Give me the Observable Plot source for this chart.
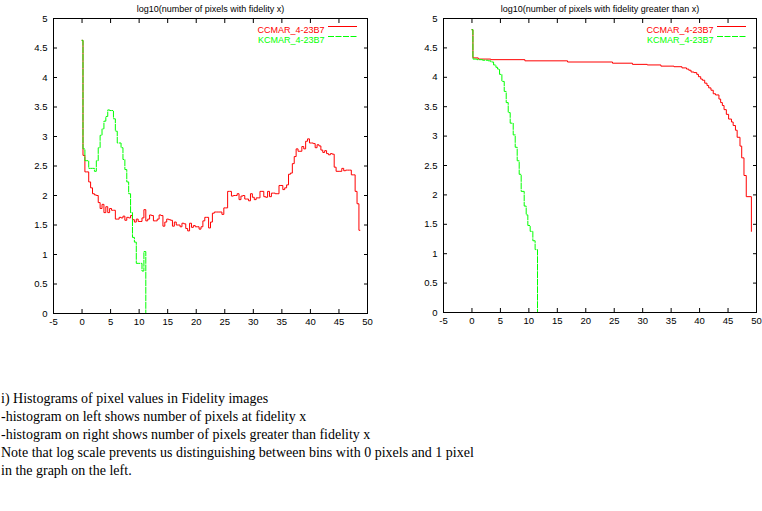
<!DOCTYPE html>
<html><head><meta charset="utf-8">
<script src="https://cdn.jsdelivr.net/npm/d3@7"></script>
<script src="https://cdn.jsdelivr.net/npm/@observablehq/plot@0.6"></script>
<style>
body{margin:0;background:#fff;}
#wrap{position:relative;width:762px;height:511px;overflow:hidden;background:#fff}
#wrap svg{position:absolute;top:0;overflow:visible;background:transparent}
#note{position:absolute;left:1px;top:390px;font-family:"Liberation Serif","DejaVu Serif",serif;font-size:14px;line-height:18px;color:#000;white-space:nowrap}
</style></head><body>
<div id="wrap"><div id="note"></div></div>
<script>
// ---- data ----
const binWidth = 1/3;   // histogram bin width (fidelity units), first bin centred at 0
const leftRed = [4.63, 2.68, 2.40, 2.40, 2.23, 2.13, 2.03, 2.01, 2.00, 1.88,
 1.78, 1.85, 1.71, 1.81, 1.71, 1.78, 1.75, 1.75, 1.60, 1.60,
 1.63, 1.62, 1.65, 1.58, 1.63, 1.62, 1.66, 1.59, 1.55, 1.60,
 1.56, 1.56, 1.62, 1.76, 1.57, 1.60, 1.67, 1.66, 1.57, 1.57,
 1.60, 1.67, 1.66, 1.48, 1.55, 1.60, 1.59, 1.58, 1.48, 1.55,
 1.50, 1.50, 1.47, 1.53, 1.52, 1.44, 1.40, 1.53, 1.46, 1.49,
 1.47, 1.47, 1.43, 1.47, 1.57, 1.63, 1.63, 1.45, 1.55, 1.70,
 1.72, 1.72, 1.72, 1.72, 1.68, 1.79, 1.79, 2.07, 2.07, 1.99,
 2.00, 2.00, 2.03, 1.93, 1.99, 2.00, 1.94, 1.94, 1.91, 2.03,
 1.97, 1.93, 1.96, 1.96, 2.07, 2.07, 1.98, 1.97, 2.07, 1.98,
 2.04, 2.04, 2.03, 2.03, 2.17, 2.17, 2.10, 2.13, 2.18, 2.36,
 2.38, 2.54, 2.66, 2.79, 2.75, 2.75, 2.83, 2.79, 2.92, 2.96,
 2.89, 2.89, 2.88, 2.81, 2.86, 2.84, 2.77, 2.73, 2.76, 2.71,
 2.69, 2.71, 2.70, 2.48, 2.41, 2.41, 2.41, 2.46, 2.42, 2.43,
 2.43, 2.43, 2.35, 2.35, 2.07, 1.86, 1.41];
const leftGreen = [4.63, 2.79, 2.59, 2.59, 2.46, 2.46, 2.46, 2.41, 2.59, 2.81,
 3.02, 3.13, 3.26, 3.34, 3.45, 3.44, 3.44, 3.30, 3.09, 2.89,
 2.89, 2.81, 2.61, 2.44, 2.23, 2.03, 1.71, 1.29, 1.21, 0.85,
 0.85, 0.85, 0.72, 1.05, 0];

const rightRedX = [0, 0.17, 1.1, 3.3, 9.3, 16.8, 24.7, 28.2, 30.8, 33.2, 35.5, 36.9, 37.7, 38.1, 38.5, 39.0, 39.5, 39.8, 40.2, 40.5, 40.9, 41.3, 41.6, 42.0, 42.4, 42.8, 43.4, 43.7, 44.0, 44.3, 44.7, 45.1, 45.6, 45.9, 46.3, 46.6, 47.1, 47.4, 47.8, 48.2, 49.1];
const rightRedY = [4.81, 4.33, 4.31, 4.30, 4.28, 4.26, 4.24, 4.22, 4.21, 4.19, 4.18, 4.16, 4.14, 4.12, 4.09, 4.08, 4.05, 4.01, 3.97, 3.95, 3.90, 3.86, 3.82, 3.78, 3.72, 3.70, 3.63, 3.57, 3.52, 3.45, 3.37, 3.29, 3.24, 3.18, 3.10, 2.98, 2.83, 2.63, 2.33, 1.97, 1.38];
const rightGreenX = [0, 0.17, 0.87, 1.87, 2.86, 3.33, 3.80, 4.21, 4.5, 4.85, 5.26, 5.67, 6.02, 6.37, 6.72, 7.25, 7.6, 7.95, 8.3, 8.65, 9.18, 9.53, 9.82, 10.23, 10.7, 11.1, 11.52];
const rightGreenY = [4.81, 4.31, 4.30, 4.29, 4.28, 4.26, 4.21, 4.17, 4.14, 4.05, 3.93, 3.76, 3.57, 3.40, 3.22, 3.02, 2.81, 2.58, 2.35, 2.06, 1.81, 1.66, 1.48, 1.38, 1.22, 1.07, 0];
const seriesNames = ["CCMAR_4-23B7", "KCMAR_4-23B7"];
const seriesColors = ["#ff0000", "#00ff00"];
const titles = ["log10(number of pixels with fidelity x)", "log10(number of pixels with fidelity greater than x)"];
const xTicks = [-5, 0, 5, 10, 15, 20, 25, 30, 35, 40, 45, 50];
const yTicks = [0, 0.5, 1, 1.5, 2, 2.5, 3, 3.5, 4, 4.5, 5];
const noteLines = [
  "i) Histograms of pixel values in Fidelity images",
  "-histogram on left shows number of pixels at fidelity x",
  "-histogram on right shows number of pixels greater than fidelity x",
  "Note that log scale prevents us distinguishing between bins with 0 pixels and 1 pixel",
  "in the graph on the left."
];

const dash = "6,1.5";
const W = 381, H = 330;

function panel({title, lines, marginLeft, marginRight, marginBottom}) {
  const svg = Plot.plot({
    width: W, height: H,
    marginLeft, marginRight, marginTop: 18, marginBottom,
    x: {domain: [-5, 50]},
    y: {domain: [0, 5]},
    style: {fontFamily: "'Liberation Sans', Arial, sans-serif", fontSize: "9.5px", color: "#000", background: "transparent"},
    marks: [
      Plot.axisX({ticks: xTicks, anchor: "bottom", tickSize: -4, tickPadding: 9, tickFormat: d => String(d), label: null}),
      Plot.axisX({ticks: xTicks, anchor: "top", tickSize: -4, tickFormat: () => "", label: null}),
      Plot.axisY({ticks: yTicks, anchor: "left", tickSize: -4, tickPadding: 10, tickFormat: d => String(d), label: null}),
      Plot.axisY({ticks: yTicks, anchor: "right", tickSize: -4, tickFormat: () => "", label: null}),
      ...lines,
      Plot.frame({stroke: "#000", strokeWidth: 1}),
      Plot.text([title], {text: d => d, frameAnchor: "top", dy: -13, fontSize: 9}),
      Plot.text([seriesNames[0]], {text: d => d, frameAnchor: "top-right", dx: -43, dy: 8, textAnchor: "end", fill: seriesColors[0], fontSize: 9}),
      Plot.text([seriesNames[1]], {text: d => d, frameAnchor: "top-right", dx: -43, dy: 18.5, textAnchor: "end", fill: seriesColors[1], fontSize: 9})
    ]
  });
  // legend line samples
  const fr = W - marginRight, top = 18;
  const g = d3.select(svg).append("g");
  g.append("line").attr("x1", fr - 39).attr("x2", fr - 10).attr("y1", top + 8.5).attr("y2", top + 8.5)
    .attr("stroke", seriesColors[0]).attr("stroke-width", 1);
  g.append("line").attr("x1", fr - 39).attr("x2", fr - 10).attr("y1", top + 18.5).attr("y2", top + 18.5)
    .attr("stroke", seriesColors[1]).attr("stroke-width", 1).attr("stroke-dasharray", dash);
  return svg;
}

const left = panel({
  title: titles[0], marginLeft: 53, marginRight: 14, marginBottom: 17,
  lines: [
    Plot.line(leftRed, {x: (d, i) => i * binWidth, y: d => d, curve: "step", stroke: seriesColors[0], strokeWidth: 1}),
    Plot.line(leftGreen, {x: (d, i) => i * binWidth, y: d => d, curve: "step", stroke: seriesColors[1], strokeWidth: 1, strokeDasharray: dash})
  ]
});
const rRed = rightRedX.map((x, i) => ({x, y: rightRedY[i]}));
const rGreen = rightGreenX.map((x, i) => ({x, y: rightGreenY[i]}));
const right = panel({
  title: titles[1], marginLeft: 62, marginRight: 6, marginBottom: 18,
  lines: [
    Plot.line(rRed, {x: "x", y: "y", curve: "step-after", stroke: seriesColors[0], strokeWidth: 1}),
    Plot.line(rGreen, {x: "x", y: "y", curve: "step-after", stroke: seriesColors[1], strokeWidth: 1, strokeDasharray: dash})
  ]
});
left.style.left = "0px";
right.style.left = "381px";
const wrap = document.getElementById("wrap");
wrap.appendChild(left);
wrap.appendChild(right);
document.getElementById("note").innerHTML = noteLines.map(s => s.replace(/&/g, "&amp;").replace(/</g, "&lt;")).join("<br>");
</script>
</body></html>
